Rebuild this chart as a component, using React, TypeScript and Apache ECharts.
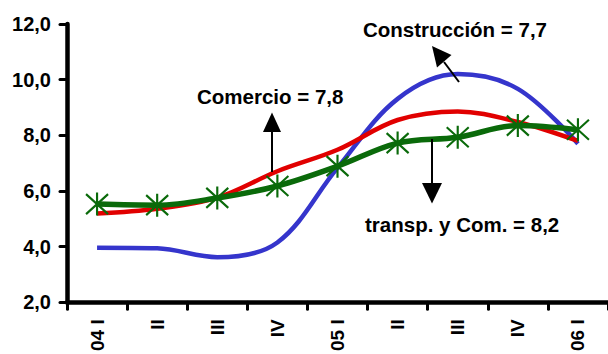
import React, { useEffect, useRef } from "react";
import * as echarts from "echarts";

// Quarterly growth by sector (%)
const categories = ["04 I", "II", "III", "IV", "05 I", "II", "III", "IV", "06 I"];
const construccion = [3.96, 3.94, 3.62, 4.15, 6.83, 9.31, 10.2, 9.67, 7.7];
const comercio = [5.19, 5.36, 5.76, 6.71, 7.48, 8.55, 8.86, 8.48, 7.8];
const transporte = [5.53, 5.49, 5.75, 6.18, 6.89, 7.72, 7.93, 8.35, 8.2];

const yTicks = { min: 2, max: 12, interval: 2 };

const FONT = '"Liberation Sans", Arial, sans-serif';
const STAR = "path://M0,-11.5L0,11.5M-11,-10L11,10M-11,10L11,-10";

export default function App() {
  const ref = useRef<HTMLDivElement>(null);

  useEffect(() => {
    document.body.style.margin = "0";
    if (!ref.current) return;
    const chart = echarts.init(ref.current, null, { renderer: "svg" });

    const txt = (text: string, x: number, y: number) => ({
      type: "text",
      x,
      y,
      z: 100,
      style: {
        text,
        fill: "#000",
        font: `bold 20.5px ${FONT}`,
        textAlign: "left",
        textVerticalAlign: "middle",
        verticalAlign: "middle",
      },
    });
    const shaft = (x1: number, y1: number, x2: number, y2: number) => ({
      type: "line",
      z: 100,
      shape: { x1, y1, x2, y2 },
      style: { stroke: "#000", lineWidth: 2 },
    });
    const head = (pts: number[][]) => ({
      type: "polygon",
      z: 100,
      shape: { points: pts },
      style: { fill: "#000" },
    });

    chart.setOption({
      animation: false,
      grid: { left: 67, top: 24, bottom: 48, right: -6, containLabel: false },
      xAxis: {
        type: "category",
        data: categories,
        boundaryGap: true,
        axisLine: { lineStyle: { color: "#000", width: 4.5 } },
        axisTick: { show: true, length: 7, lineStyle: { color: "#000", width: 3, cap: "round" } },
        axisLabel: {
          rotate: 90,
          margin: 17,
          color: "#000",
          fontWeight: "bold",
          fontSize: 19,
          fontFamily: FONT,
          interval: 0,
        },
        splitLine: { show: false },
      },
      yAxis: {
        type: "value",
        min: yTicks.min,
        max: yTicks.max,
        interval: yTicks.interval,
        axisLine: { show: true, lineStyle: { color: "#000", width: 4.5 } },
        axisTick: { show: true, length: 7, lineStyle: { color: "#000", width: 3, cap: "round" } },
        axisLabel: {
          margin: 16,
          color: "#000",
          fontWeight: "bold",
          fontSize: 20,
          fontFamily: FONT,
          formatter: (v: number) => v.toFixed(1).replace(".", ","),
        },
        splitLine: { show: false },
      },
      series: [
        {
          name: "Construcción",
          type: "line",
          data: construccion,
          smooth: 0.35,
          showSymbol: false,
          z: 2,
          lineStyle: { color: "#3535CC", width: 4.5 },
          itemStyle: { color: "#3535CC" },
        },
        {
          name: "Comercio",
          type: "line",
          data: comercio,
          smooth: 0.35,
          showSymbol: false,
          z: 3,
          lineStyle: { color: "#E10000", width: 4.5 },
          itemStyle: { color: "#E10000" },
        },
        {
          name: "transp. y Com.",
          type: "line",
          data: transporte,
          smooth: 0.35,
          symbol: STAR,
          symbolSize: [22, 23],
          z: 4,
          lineStyle: { color: "#0A6A0A", width: 5.5 },
          itemStyle: { color: "#0A6A0A", borderColor: "#0A6A0A", borderWidth: 2.2 },
        },
      ],
      graphic: [
        txt("Construcción = 7,7", 363, 29),
        shaft(459, 82, 444, 62),
        head([[432, 46], [451.5, 55], [437, 67.5]]),
        txt("Comercio = 7,8", 197, 96),
        shaft(272, 172, 272, 131),
        head([[272, 112.5], [263, 132], [281, 132]]),
        txt("transp. y Com. = 8,2", 365, 224),
        shaft(432, 139, 432, 184),
        head([[422, 183], [442, 183], [432, 203.5]]),
      ],
    });

    return () => chart.dispose();
  }, []);

  return (
    <div
      ref={ref}
      style={{ position: "absolute", left: 0, top: 0, width: 608, height: 354 }}
    />
  );
}
